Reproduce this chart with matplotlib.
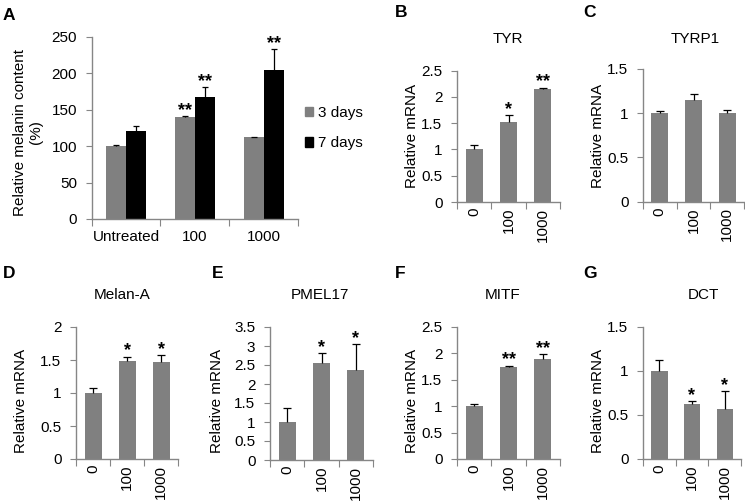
import numpy as np
import matplotlib
matplotlib.use("Agg")
import matplotlib.pyplot as plt

plt.rcParams["font.family"] = ["Liberation Sans", "DejaVu Sans"]

W, H = 745, 503
AXIS_GREY = "#868686"
BAR_GREY = "#808080"
FS = 11

# --- panel A: melanin content ---
melanin_groups = ["Untreated", "100", "1000"]
melanin_3d = [100, 140, 112]
melanin_3d_err = [1, 1, 1]
melanin_7d = [121, 168, 204]
melanin_7d_err = [7, 13, 29]
melanin_3d_stars = ["", "**", ""]
melanin_7d_stars = ["", "**", "**"]

# --- panels B-G: relative mRNA ---
doses = ["0", "100", "1000"]
tyr = [1.0, 1.53, 2.15]
tyr_err = [0.08, 0.12, 0.03]
tyr_stars = ["", "*", "**"]
tyrp1 = [1.0, 1.15, 1.0]
tyrp1_err = [0.025, 0.07, 0.04]
tyrp1_stars = ["", "", ""]
melana = [1.0, 1.48, 1.47]
melana_err = [0.07, 0.07, 0.1]
melana_stars = ["", "*", "*"]
pmel17 = [1.0, 2.55, 2.37]
pmel17_err = [0.38, 0.27, 0.68]
pmel17_stars = ["", "*", "*"]
mitf = [1.0, 1.75, 1.9]
mitf_err = [0.04, 0.02, 0.09]
mitf_stars = ["", "**", "**"]
dct = [1.0, 0.62, 0.57]
dct_err = [0.12, 0.04, 0.2]
dct_stars = ["", "*", "*"]


def px_axes(fig, left, right, top, bottom):
    return fig.add_axes([left / W, 1 - bottom / H, (right - left) / W, (bottom - top) / H])


def style(ax, ymax, ystep, labels, rotate):
    n = len(labels)
    ax.set_xlim(-0.5, n - 0.5)
    ax.set_ylim(0, ymax)
    ax.set_yticks(np.arange(0, ymax + ystep / 2, ystep))
    ax.yaxis.set_major_formatter(matplotlib.ticker.FormatStrFormatter("%g"))
    ax.set_xticks(np.arange(-0.5, n, 1.0))
    ax.set_xticklabels([])
    ax.set_xticks(np.arange(n), minor=True)
    ax.set_xticklabels(labels, minor=True, rotation=90 if rotate else 0)
    ax.tick_params(axis="x", which="minor", length=0, pad=4, labelsize=FS)
    ax.tick_params(axis="x", which="major", length=5, color=AXIS_GREY, direction="out")
    ax.tick_params(axis="y", length=4, color=AXIS_GREY, direction="out", labelsize=FS, pad=6.5)
    for s in ("top", "right"):
        ax.spines[s].set_visible(False)
    for s in ("left", "bottom"):
        ax.spines[s].set_color(AXIS_GREY)
        ax.spines[s].set_linewidth(1.0)


def bars(ax, x, vals, errs, stars, width, color, cap):
    x = np.asarray(x, dtype=float)
    vals = np.asarray(vals)
    tops = vals + np.asarray(errs)
    ax.bar(x, vals, width=width, color=color, zorder=2)
    ax.vlines(x, vals, tops, color="black", lw=0.9, zorder=3)
    ax.plot(x, tops, ls="none", marker="_", ms=cap, mew=0.9, color="black", zorder=3)
    for xi, ti, s in zip(x, tops, stars):
        if s:
            ax.annotate(s, (xi, ti), xytext=(0, -2), textcoords="offset points",
                        ha="center", va="bottom", fontsize=13, fontweight="bold")


fig = plt.figure(figsize=(W / 100, H / 100), dpi=100)

# panel A
axA = px_axes(fig, 91.7, 298, 37, 219)
xa = np.arange(len(melanin_groups))
bw = 0.29
bars(axA, xa - bw / 2, melanin_3d, melanin_3d_err, melanin_3d_stars, bw, BAR_GREY, 5)
bars(axA, xa + bw / 2, melanin_7d, melanin_7d_err, melanin_7d_stars, bw, "black", 5)
style(axA, 250, 50, melanin_groups, False)
axA.tick_params(axis="x", which="minor", pad=8)
fig.text(28 / W, 1 - 132 / H, "Relative melanin content\n(%)", rotation=90,
         ha="center", va="center", fontsize=FS, linespacing=1.1)

leg_handles = [matplotlib.patches.Patch(color=BAR_GREY), matplotlib.patches.Patch(color="black")]
fig.legend(leg_handles, ["3 days", "7 days"], loc="center left",
           bbox_to_anchor=(305 / W, 1 - 128 / H), frameon=False, fontsize=FS,
           handlelength=0.55, handleheight=0.55, handletextpad=0.3,
           labelspacing=1.1, borderpad=0, borderaxespad=0)

# panels B-G
panels = [
    ("TYR", tyr, tyr_err, tyr_stars, 2.5, (457, 560, 70.7, 202)),
    ("TYRP1", tyrp1, tyrp1_err, tyrp1_stars, 1.5, (643, 744, 69, 201.7)),
    ("Melan-A", melana, melana_err, melana_stars, 2.0, (76, 178, 327, 459)),
    ("PMEL17", pmel17, pmel17_err, pmel17_stars, 3.5, (270, 373, 327, 460)),
    ("MITF", mitf, mitf_err, mitf_stars, 2.5, (457, 560, 327, 459)),
    ("DCT", dct, dct_err, dct_stars, 1.5, (643, 741, 327, 459)),
]
title_pos = [(508, 39), (695, 39), (122, 295), (320, 295), (503, 295), (703, 295)]
ylabel_pos = [(412, 136), (598, 136), (21, 401), (217, 401), (412, 401), (598, 401)]

for (name, vals, errs, stars, ymax, box), tp, lp in zip(panels, title_pos, ylabel_pos):
    ax = px_axes(fig, *box)
    bars(ax, np.arange(len(doses)), vals, errs, stars, 0.5, BAR_GREY, 6)
    style(ax, ymax, 0.5, doses, True)
    fig.text(tp[0] / W, 1 - tp[1] / H, name, ha="center", va="center", fontsize=FS)
    fig.text(lp[0] / W, 1 - lp[1] / H, "Relative mRNA", rotation=90,
             ha="center", va="center", fontsize=FS)

# panel letters
letters = ["A", "B", "C", "D", "E", "F", "G"]
letter_pos = [(9, 15.5), (401, 12.5), (590, 12.5), (9, 273), (218, 273), (400, 273), (590, 273)]
for letter, (lx, ly) in zip(letters, letter_pos):
    fig.text(lx / W, 1 - ly / H, letter, ha="center", va="center",
             fontsize=12.5, fontweight="bold")

fig.savefig("out.png", dpi=100)
